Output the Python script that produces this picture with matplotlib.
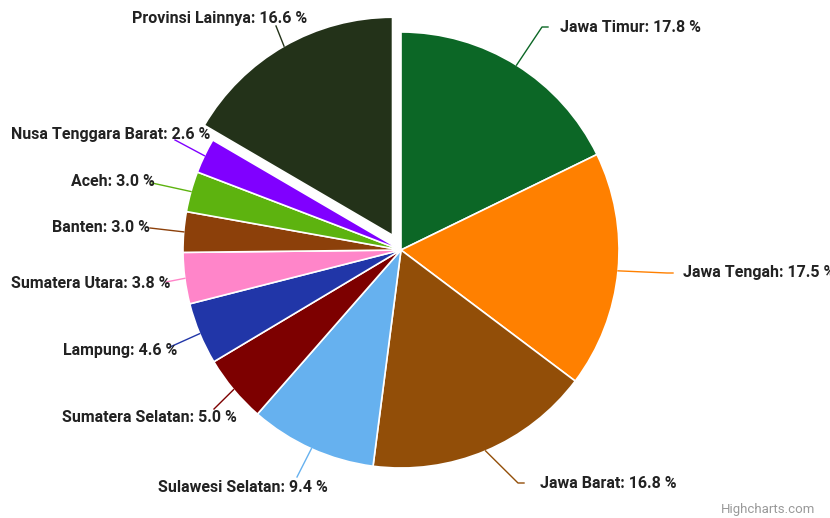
import math
import matplotlib.pyplot as plt

plt.rcParams['font.family'] = ['Roboto', 'DejaVu Sans']

W, H = 830, 518

provinces = ["Jawa Timur", "Jawa Tengah", "Jawa Barat", "Sulawesi Selatan",
             "Sumatera Selatan", "Lampung", "Sumatera Utara", "Banten", "Aceh",
             "Nusa Tenggara Barat", "Provinsi Lainnya"]
shares = [17.8, 17.5, 16.8, 9.4, 5.0, 4.6, 3.8, 3.0, 3.0, 2.6, 16.6]
colors = ["#0c6726", "#ff8000", "#924e08", "#66b1ef", "#7d0000", "#2136a8",
          "#ff85c9", "#8c400a", "#5db30f", "#8000ff", "#233219"]
sliced = [False] * 10 + [True]

# layout (pixel coords, y from top)
center = (401, 250)
radius = 218
slice_offset = 17
label_pos = [(560, 27), (683, 272), (540, 483), (328, 488), (237, 417),
             (177, 350), (170, 283), (150, 228), (155, 182), (210, 134), (307, 18)]
label_side = ["left", "left", "left", "right", "right", "right", "right",
              "right", "right", "right", "right"]
conn_end = [(548, 27), (673, 273), (524, 483), (297, 477), (214, 409),
            (170, 347), (166, 282), (150, 228), (152, 183), (175, 140), (276, 26)]

fig = plt.figure(figsize=(W / 100, H / 100), dpi=100)
ax = fig.add_axes([0, 0, 1, 1])

explode = [slice_offset if s else 0 for s in sliced]
wedges, _ = ax.pie(shares, colors=colors, startangle=90, counterclock=False,
                   center=(center[0], H - center[1]), radius=radius,
                   explode=explode, frame=True,
                   wedgeprops=dict(edgecolor='white', linewidth=1.2))
ax.set_xlim(0, W)
ax.set_ylim(0, H)
ax.set_aspect('equal')
ax.axis('off')

for w, name, val, col, (lx, ly), side, (ex, ey) in zip(
        wedges, provinces, shares, colors, label_pos, label_side, conn_end):
    tm = math.radians((w.theta1 + w.theta2) / 2)
    cx, cy = w.center
    px = cx + w.r * math.cos(tm)
    py = cy + w.r * math.sin(tm)
    if side == "left":
        ax.plot([px, ex - 6, ex], [py, H - ey, H - ey], color=col, lw=1)
    else:
        ax.plot([px, ex], [py, H - ey], color=col, lw=1)
    ax.text(lx, H - ly, f"{name}: {val:.1f} %", ha=side, va='center',
            fontsize=11.5, fontweight='bold', color='#222222')

ax.text(815, H - 510, "Highcharts.com", ha='right', va='center',
        fontsize=9.5, color='#999999')

fig.savefig("out.png", dpi=100)
